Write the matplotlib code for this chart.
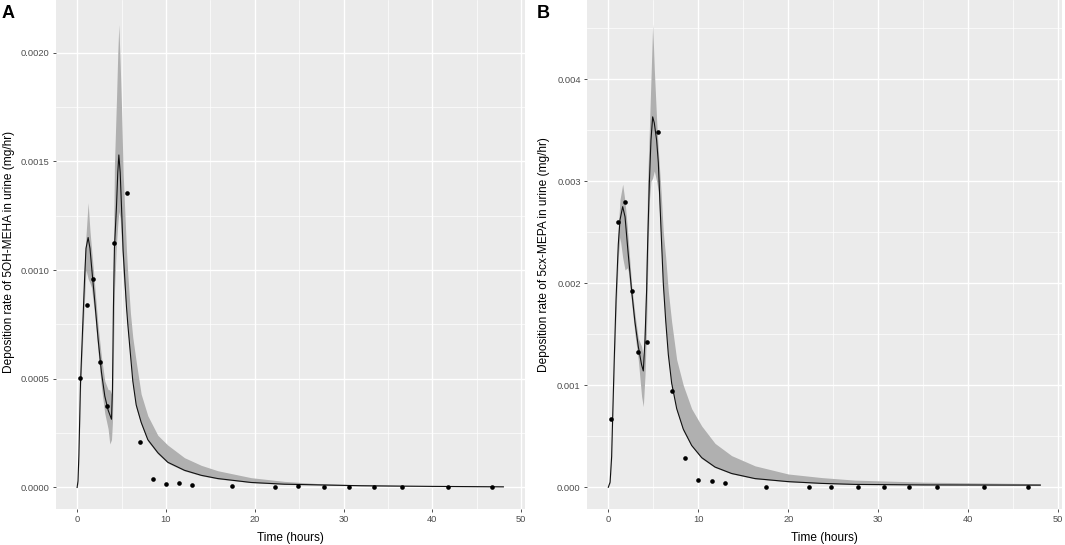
import matplotlib
matplotlib.use("Agg")
import matplotlib.pyplot as plt
from matplotlib.ticker import MultipleLocator, FormatStrFormatter

plt.rcParams['font.family'] = ['Liberation Sans', 'DejaVu Sans']

# ---------------- data: panel A (5OH-MEHA) ----------------
a_obs_t = [0.38, 1.13, 1.84, 2.59, 3.34, 4.17, 5.60, 7.06, 8.56, 10.04, 11.45, 12.94,
           17.46, 22.30, 24.82, 27.78, 30.67, 33.45, 36.53, 41.71, 46.67]
a_obs_v = [0.000505, 0.000838, 0.000960, 0.000577, 0.000376, 0.001123, 0.001356, 0.000208,
           0.0000368, 0.0000166, 0.0000220, 0.0000100, 0.0000060, 0.0000020, 0.0000070,
           0.0000005, 0.0000005, 0.0000005, 0.0000005, 0.0000003, 0.0000002]

a_t = [0, 0.1, 0.2, 0.38, 0.6, 0.83, 1.0, 1.24, 1.45, 1.62, 2.0, 2.37, 2.74, 3.12, 3.49,
       3.68, 3.87, 3.98, 4.09, 4.2, 4.43, 4.58, 4.7, 4.85, 5.0, 5.18, 5.56, 5.71, 6.01,
       6.27, 6.65, 7.21, 7.96, 9.09, 10.21, 12.09, 13.97, 15.84, 19.6, 23.35, 27.1,
       32, 40, 48]
a_line = [0, 0.00003, 0.00015, 0.00048, 0.00071, 0.00095, 0.00110, 0.00115, 0.00110,
          0.00102, 0.00085, 0.00068, 0.00053, 0.00042, 0.000356, 0.000335, 0.000314,
          0.00045, 0.00083, 0.00110, 0.00129, 0.00145, 0.00153, 0.00145, 0.00129, 0.00109,
          0.00083, 0.00075, 0.00061, 0.00049, 0.00038, 0.00030, 0.00022, 0.000160,
          0.000116, 0.000079, 0.000056, 0.000041, 0.000023, 0.000015, 0.000012,
          0.000008, 0.000005, 0.000003]
a_lo = [0, 0.00002, 0.00012, 0.00044, 0.00065, 0.00086, 0.00100, 0.00096, 0.00094,
        0.00092, 0.00079, 0.00062, 0.00046, 0.00034, 0.00027, 0.00020, 0.00022,
        0.00030, 0.00060, 0.00090, 0.00112, 0.00121, 0.00127, 0.00124, 0.00113, 0.00098,
        0.00080, 0.00072, 0.00059, 0.00047, 0.000365, 0.00029, 0.000212, 0.000154,
        0.000112, 0.000076, 0.000054, 0.000039, 0.000022, 0.000014, 0.000011,
        0.000007, 0.000004, 0.000003]
a_hi = [0, 0.00004, 0.00018, 0.00053, 0.00078, 0.00104, 0.00116, 0.00131, 0.00118,
        0.00110, 0.00092, 0.00074, 0.00060, 0.00049, 0.00045, 0.00045, 0.00043,
        0.00060, 0.00105, 0.00148, 0.00178, 0.00200, 0.00213, 0.00195, 0.00175, 0.00145,
        0.00109, 0.00098, 0.00080, 0.00069, 0.00058, 0.00043, 0.00033, 0.00024,
        0.000195, 0.000137, 0.000102, 0.000077, 0.000045, 0.000028, 0.000018,
        0.000012, 0.000006, 0.000004]

# ---------------- data: panel B (5cx-MEPA) ----------------
b_obs_t = [0.30, 1.08, 1.89, 2.60, 3.33, 4.26, 5.52, 7.08, 8.52, 10.02, 11.48, 12.96,
           17.48, 22.30, 24.78, 27.71, 30.63, 33.41, 36.52, 41.74, 46.60]
b_obs_v = [0.000672, 0.002596, 0.002798, 0.001925, 0.001325, 0.001423, 0.003484, 0.000946,
           0.000284, 0.0000754, 0.0000656, 0.0000410, 0.0000070, 0.000001, 0.000001,
           0.000001, 0.000001, 0.000001, 0.000001, 0.000001, 0.000001]

b_t = [0, 0.2, 0.37, 0.48, 0.67, 0.86, 1.11, 1.3, 1.6, 1.86, 2.11, 2.22, 2.6, 2.96, 3.33,
       3.7, 3.89, 4.08, 4.26, 4.37, 4.56, 4.74, 4.93, 5.11, 5.37, 5.56, 5.86, 6.11, 6.38,
       6.67, 7.04, 7.6, 8.33, 9.26, 10.38, 11.86, 13.7, 16.3, 20, 23.7, 27.4, 35, 48]
b_line = [0, 0.00005, 0.00030, 0.00067, 0.00128, 0.00184, 0.00238, 0.00262, 0.00275,
          0.00265, 0.00239, 0.00228, 0.00192, 0.00162, 0.00138, 0.00120, 0.00114,
          0.00145, 0.00194, 0.00238, 0.00298, 0.00340, 0.00363, 0.00357, 0.00340,
          0.00318, 0.00252, 0.00200, 0.00163, 0.00130, 0.00102, 0.00077, 0.00057,
          0.00041, 0.00029, 0.000198, 0.000135, 0.000085, 0.000055, 0.000038,
          0.000028, 0.000023, 0.000021]
b_lo = [0, 0.00004, 0.00027, 0.00062, 0.00120, 0.00170, 0.00225, 0.00245, 0.00225,
        0.00213, 0.00215, 0.00212, 0.00180, 0.00150, 0.00125, 0.00089, 0.00079,
        0.00110, 0.00160, 0.00210, 0.00280, 0.00300, 0.00303, 0.00310, 0.00300,
        0.00290, 0.00240, 0.00192, 0.00157, 0.00126, 0.00099, 0.00075, 0.00055,
        0.00040, 0.00028, 0.000192, 0.000131, 0.000082, 0.000053, 0.000037,
        0.000027, 0.000022, 0.000020]
b_hi = [0, 0.00006, 0.00033, 0.00072, 0.00136, 0.00195, 0.00255, 0.00282, 0.00297,
        0.00280, 0.00255, 0.00242, 0.00198, 0.00170, 0.00146, 0.00138, 0.00128,
        0.00170, 0.00240, 0.00300, 0.00350, 0.00400, 0.00454, 0.00410, 0.00360,
        0.00330, 0.00290, 0.00250, 0.00225, 0.00192, 0.00162, 0.00125, 0.00100,
        0.00077, 0.00060, 0.00043, 0.00031, 0.00021, 0.00013, 0.000095,
        0.000070, 0.000050, 0.000035]

x_label = "Time (hours)"
a_ylabel = "Deposition rate of 5OH-MEHA in urine (mg/hr)"
b_ylabel = "Deposition rate of 5cx-MEPA in urine (mg/hr)"

W, H = 1065, 545
fig = plt.figure(figsize=(W / 100, H / 100), dpi=100)

def px(x0, y0, x1, y1):
    return [x0 / W, 1 - y1 / H, (x1 - x0) / W, (y1 - y0) / H]

axA = fig.add_axes(px(55.8, 0, 524.7, 509.2))
axB = fig.add_axes(px(586.7, 0, 1061.9, 509.2))

def style(ax, ylim, ymaj, ymin, fmt):
    ax.set_facecolor('#EBEBEB')
    for s in ax.spines.values():
        s.set_visible(False)
    ax.set_xlim(-2.4, 50.4)
    ax.set_ylim(*ylim)
    ax.xaxis.set_major_locator(MultipleLocator(10))
    ax.xaxis.set_minor_locator(MultipleLocator(5))
    ax.yaxis.set_major_locator(MultipleLocator(ymaj))
    ax.yaxis.set_minor_locator(MultipleLocator(ymin))
    ax.yaxis.set_major_formatter(FormatStrFormatter(fmt))
    ax.grid(which='major', color='white', lw=1.0)
    ax.grid(which='minor', color='white', lw=0.5)
    ax.set_axisbelow(True)
    ax.tick_params(which='major', length=2.3, width=0.6, color='#333333',
                   labelsize=6.7, labelcolor='#4D4D4D', pad=2)
    ax.tick_params(which='minor', length=0)

def draw(ax, t, line, lo, hi, ot, ov):
    ax.fill_between(t, lo, hi, color='#B0B0B0', lw=0, zorder=2)
    ax.plot(t, line, color='#111111', lw=0.8, zorder=3)
    ax.scatter(ot, ov, s=11, color='black', zorder=4, linewidths=0)

style(axA, (-0.0001, 0.002243), 0.0005, 0.00025, '%.4f')
style(axB, (-0.000215, 0.004775), 0.001, 0.0005, '%.3f')
draw(axA, a_t, a_line, a_lo, a_hi, a_obs_t, a_obs_v)
draw(axB, b_t, b_line, b_lo, b_hi, b_obs_t, b_obs_v)

fs_title = 8.6
fig.text(290.3 / W, 1 - 537.5 / H, x_label, ha='center', va='center', fontsize=fs_title)
fig.text(824.3 / W, 1 - 537.5 / H, x_label, ha='center', va='center', fontsize=fs_title)
fig.text(9.5 / W, 1 - 252 / H, a_ylabel, ha='center', va='center', rotation=90,
         fontsize=fs_title)
fig.text(544 / W, 1 - 255 / H, b_ylabel, ha='center', va='center', rotation=90,
         fontsize=fs_title)

fig.text(1.5 / W, 1 - 17.5 / H, "A", ha='left', va='baseline', fontsize=13,
         fontweight='bold')
fig.text(537 / W, 1 - 17.5 / H, "B", ha='left', va='baseline', fontsize=13,
         fontweight='bold')

fig.savefig("out.png", dpi=100)
